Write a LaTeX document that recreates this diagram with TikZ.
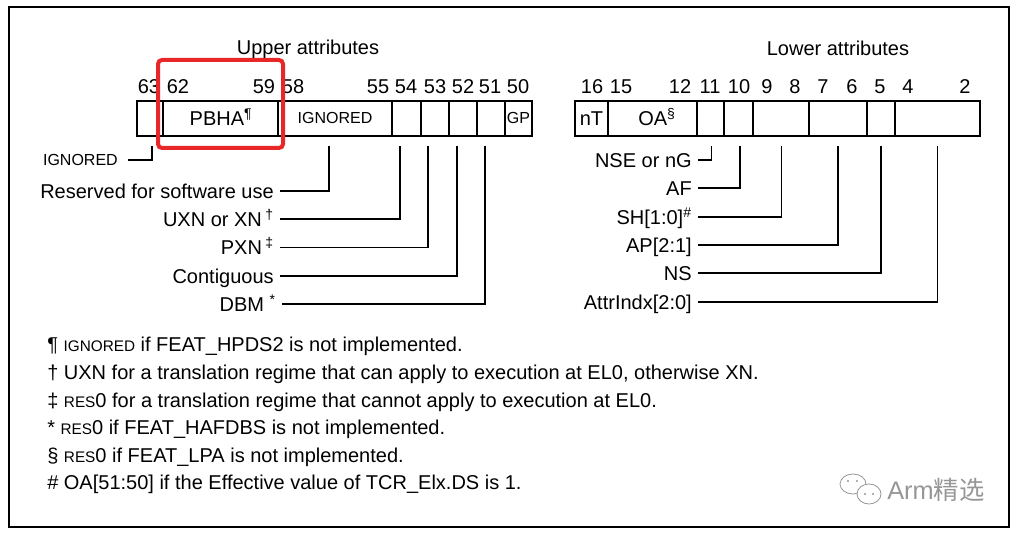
\documentclass[tikz,border=0pt]{standalone}
\usepackage{fontspec}
\setmainfont{Liberation Sans}
\newfontfamily\cjkfont{Noto Sans CJK SC}
\usepackage{tikz}
\usetikzlibrary{positioning,calc}
\definecolor{rahmenrot}{RGB}{232,40,40}
\definecolor{wasserzeichen}{RGB}{150,150,150}
\newcommand{\kap}[1]{{\fontsize{11.5}{14}\selectfont #1}}
\tikzset{
  rahmen/.style={line width=1.4pt},
  feld/.style={line width=1.1pt},
  linie/.style={line width=0.8pt},
  titel/.style={font=\fontsize{15}{18}\selectfont,anchor=base,inner sep=0pt},
  bitnr/.style={font=\fontsize{15}{18}\selectfont,inner sep=0pt},
  feldtext/.style={font=\fontsize{15}{18}\selectfont,inner sep=0pt,text height=10.7pt,text depth=0pt},
  klein/.style={font=\fontsize{12}{14}\selectfont,text height=8.6pt},
  bezeichnung/.style={font=\fontsize{15}{18}\selectfont,anchor=east,inner xsep=4.5pt,inner ysep=0pt,text height=10.7pt,text depth=0pt},
  fussnote/.style={font=\fontsize{15}{18}\selectfont,anchor=base west,inner sep=0pt},
  markierung/.style={draw=rahmenrot,line width=3pt,rounded corners=3pt},
}
\begin{document}
\begin{tikzpicture}[x=0.75pt,y=-0.75pt]
\useasboundingbox (0,0) rectangle (1018,534);
%Rahmen um alles
\draw[rahmen] (9,7) rectangle (1009,527);
\node[titel] (oben) at (308,55) {Upper attributes};
\node[titel] (unten) at (838,56) {Lower attributes};
%Bitnummern ueber den Feldern
\foreach \x/\n in {149/63,178/62,264/59,293/58,378/55,406/54,435/53,463/52,490/51,518/50,592/16,621/15,680/12,710/11,739/10,767/9,795/8,823/7,852/6,880/5,908/4,965/2}{
  \node[bitnr] (b\n) at (\x,87) {\n};
}
%Felder oben und unten
\draw[feld] (137,101) rectangle (532,136);
\foreach \x in {163,278,392,421,449,477,505}{
  \draw[feld] (\x,101) -- (\x,136);
}
\draw[feld] (575,101) rectangle (980,136);
\foreach \x in {608,697,724,753,809,867,895}{
  \draw[feld] (\x,101) -- (\x,136);
}
\node[feldtext] (pbha) at (221,118) {PBHA\textsuperscript{¶}};
\node[feldtext,klein] (ign58) at (335,118) {IGNORED};
\node[feldtext,klein] (gp) at (518.5,118) {GP};
\node[feldtext] (nt) at (591.5,118) {nT};
\node[feldtext] (oa) at (657,118) {OA\textsuperscript{§}};
%Anschlusspunkte unter den Feldern
\foreach \x/\n in {152/63,329/58,400/54,428/53,457/52,485/51,711.5/11,740/10,781.5/9,838/7,881/5,937.5/4}{
  \coordinate (k\n) at (\x,146);
}
\node[bezeichnung,klein,inner xsep=7.5pt] (ign) at (128,160) {IGNORED};
\node[bezeichnung] (res) at (280,191) {Reserved for software use};
\node[bezeichnung] (uxn) at (280,219) {UXN or XN\,\textsuperscript{†}};
\node[bezeichnung] (pxn) at (280,247.5) {PXN\,\textsuperscript{‡}};
\node[bezeichnung] (con) at (280,276) {Contiguous};
\node[bezeichnung] (dbm) at (282,304) {DBM \textsuperscript{*}};
\node[bezeichnung] (nse) at (698,160) {NSE or nG};
\node[bezeichnung] (af) at (698,188) {AF};
\node[bezeichnung] (sh) at (698,217) {SH[1:0]\textsuperscript{\#}};
\node[bezeichnung] (ap) at (698,245) {AP[2:1]};
\node[bezeichnung] (ns) at (698,273) {NS};
\node[bezeichnung] (attr) at (698,302) {AttrIndx[2:0]};
\foreach \a/\b in {ign/k63,res/k58,uxn/k54,pxn/k53,con/k52,dbm/k51,nse/k11,af/k10,sh/k9,ap/k7,ns/k5,attr/k4}{
  \draw[linie] (\a) -| (\b);
}
%rote Markierung um PBHA
\draw[markierung] (158,60) rectangle (283,148);
%Fussnoten
\node[fussnote] (fn1) at (47,352) {¶ \kap{IGNORED} if FEAT\_HPDS2 is not implemented.};
\node[fussnote] (fn2) at (47,380) {† UXN for a translation regime that can apply to execution at EL0, otherwise XN.};
\node[fussnote] (fn3) at (47,407.5) {‡ \kap{RES}0 for a translation regime that cannot apply to execution at EL0.};
\node[fussnote] (fn4) at (47,435) {* \kap{RES}0 if FEAT\_HAFDBS is not implemented.};
\node[fussnote] (fn5) at (47,462.5) {§ \kap{RES}0 if FEAT\_LPA is not implemented.};
\node[fussnote] (fn6) at (47,490) {\# OA[51:50] if the Effective value of TCR\_Elx.DS is 1.};
%Wasserzeichen
\draw[wasserzeichen,line width=0.6pt] (853,484) ellipse (13 and 10);
\draw[wasserzeichen,line width=0.6pt,fill=white] (869,494) ellipse (12 and 10);
\foreach \x/\y in {848/481,857/481,865/494,873/494}{
  \fill[wasserzeichen] (\x,\y) circle (1.2);
}
\node[font=\fontsize{19}{22}\selectfont,text=wasserzeichen,anchor=west,inner sep=0pt] (wz) at (887,490) {Arm{\cjkfont 精选}};
\end{tikzpicture}
\end{document}
